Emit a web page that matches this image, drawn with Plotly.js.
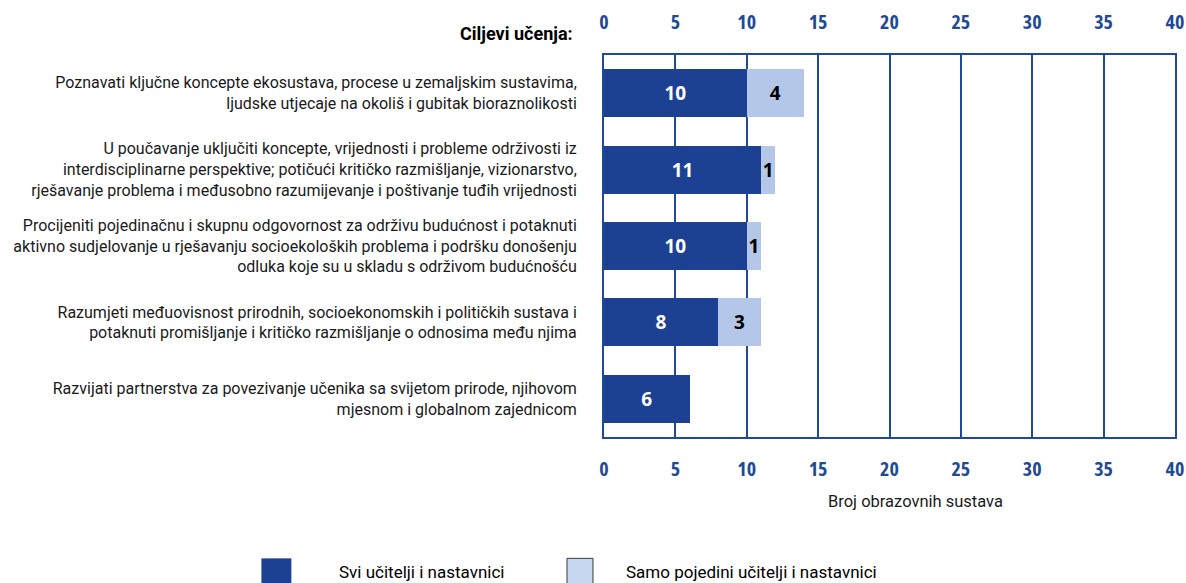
<!DOCTYPE html>
<html>
<head>
<meta charset="utf-8">
<script src="https://cdn.plot.ly/plotly-3.0.1.min.js"></script>
<style>
html,body{margin:0;padding:0;background:#fff;}
#chart{width:1186px;height:583px;}
#chart .xtick text, #chart .x2tick text, #chart .bartext text { font-stretch: 75% !important; }
</style>
</head>
<body>
<div id="chart"></div>
<script>
const categories = [
  "Poznavati ključne koncepte ekosustava, procese u zemaljskim sustavima,<br>ljudske utjecaje na okoliš i gubitak bioraznolikosti",
  "U poučavanje uključiti koncepte, vrijednosti i probleme održivosti iz<br>interdisciplinarne perspektive; potičući kritičko razmišljanje, vizionarstvo,<br>rješavanje problema i međusobno razumijevanje i poštivanje tuđih vrijednosti",
  "Procijeniti pojedinačnu i skupnu odgovornost za održivu budućnost i potaknuti<br>aktivno sudjelovanje u rješavanju socioekoloških problema i podršku donošenju<br>odluka koje su u skladu s održivom budućnošću",
  "Razumjeti međuovisnost prirodnih, socioekonomskih i političkih sustava i<br>potaknuti promišljanje i kritičko razmišljanje o odnosima među njima",
  "Razvijati partnerstva za povezivanje učenika sa svijetom prirode, njihovom<br>mjesnom i globalnom zajednicom"
];
const allTeachers = [10, 11, 10, 8, 6];
const someTeachers = [4, 1, 1, 3, 0];
const seriesNames = ["Svi učitelji i nastavnici", "Samo pojedini učitelji i nastavnici"];
const headerText = "Ciljevi učenja:";
const axisTitle = "Broj obrazovnih sustava";

const COND = "Open Sans, sans-serif";
const REG = "Roboto, Liberation Sans, sans-serif";
const DARK = "#1c4193";
const LIGHT = "#b4c7e8";
const AXC = "#1f4a96";
const seriesColors = [DARK, "#c5d8f0"];

const traces = [
  {
    type: "bar", orientation: "h", name: seriesNames[0],
    y: categories, x: allTeachers,
    text: allTeachers.map(v => v > 0 ? String(v) : ""),
    textposition: "inside", insidetextanchor: "middle", constraintext: "none",
    textfont: {family: COND, size: 19, color: "#ffffff", weight: "bold"},
    marker: {color: DARK}, hoverinfo: "x+name", showlegend: false
  },
  {
    type: "bar", orientation: "h", name: seriesNames[1],
    y: categories, x: someTeachers,
    text: someTeachers.map(v => v > 0 ? String(v) : ""),
    textposition: "inside", insidetextanchor: "middle", constraintext: "none",
    textfont: {family: COND, size: 19, color: "#000000", weight: "bold"},
    marker: {color: LIGHT}, hoverinfo: "x+name", showlegend: false
  },
  {
    type: "scatter", mode: "markers", x: [0], y: [categories[0]], xaxis: "x2",
    marker: {opacity: 0}, showlegend: false, hoverinfo: "skip"
  }
];

const axisCommon = {
  range: [0, 40], dtick: 5, tick0: 0,
  tickfont: {family: COND, size: 20, color: AXC, weight: "bold"},
  ticks: "", fixedrange: true, zeroline: false, ticklabeloverflow: "allow"
};

// manual legend (swatches in paper coords, names from seriesNames)
const legendX = [-0.6, -0.0648];
const swatchW = [0.0525, 0.0455];
const legendTextX = [-0.4676, 0.035];
const shapes = seriesNames.map((n, i) => ({
  type: "rect", xref: "paper", yref: "paper", layer: "above",
  x0: legendX[i], x1: legendX[i] + swatchW[i],
  y0: -0.3177, y1: -0.40,
  fillcolor: seriesColors[i],
  line: {color: i === 0 ? DARK : "#3a3a3a", width: i === 0 ? 0 : 1}
}));
const legendAnn = seriesNames.map((n, i) => ({
  text: n, xref: "paper", yref: "paper", x: legendTextX[i], y: -0.353,
  xanchor: "left", yanchor: "middle", showarrow: false,
  font: {family: REG, size: 17, color: "#000"}
}));

const layout = {
  width: 1186, height: 583,
  margin: {l: 604, r: 11, t: 55, b: 146},
  paper_bgcolor: "#ffffff", plot_bgcolor: "#ffffff",
  barmode: "stack", bargap: 0.37,
  showlegend: false,
  xaxis: Object.assign({}, axisCommon, {
    side: "bottom", showgrid: true, gridcolor: AXC, gridwidth: 1.5,
    showline: true, linecolor: AXC, linewidth: 2, mirror: true,
    ticklabelstandoff: 13
  }),
  xaxis2: Object.assign({}, axisCommon, {
    overlaying: "x", side: "top", anchor: "y", showgrid: false,
    showline: false, ticklabelstandoff: 21, matches: "x"
  }),
  yaxis: {
    autorange: "reversed", type: "category",
    tickfont: {family: REG, size: 16, color: "#1a1a1a"},
    ticks: "", showgrid: false, showline: true, linecolor: AXC, linewidth: 2, mirror: true,
    ticklabelstandoff: 22, fixedrange: true
  },
  shapes: shapes,
  annotations: [
    {text: headerText, xref: "paper", yref: "paper", x: -0.0508, y: 1.057, xanchor: "right", yanchor: "middle",
     showarrow: false, font: {family: REG, size: 18, color: "#000", weight: "bold"}},
    {text: axisTitle, xref: "paper", yref: "paper", x: 0.545, y: -0.17, xanchor: "center", yanchor: "middle",
     showarrow: false, font: {family: REG, size: 16.5, color: "#1a1a1a"}}
  ].concat(legendAnn)
};

Plotly.newPlot("chart", traces, layout, {displayModeBar: false, responsive: false});
</script>
</body>
</html>
